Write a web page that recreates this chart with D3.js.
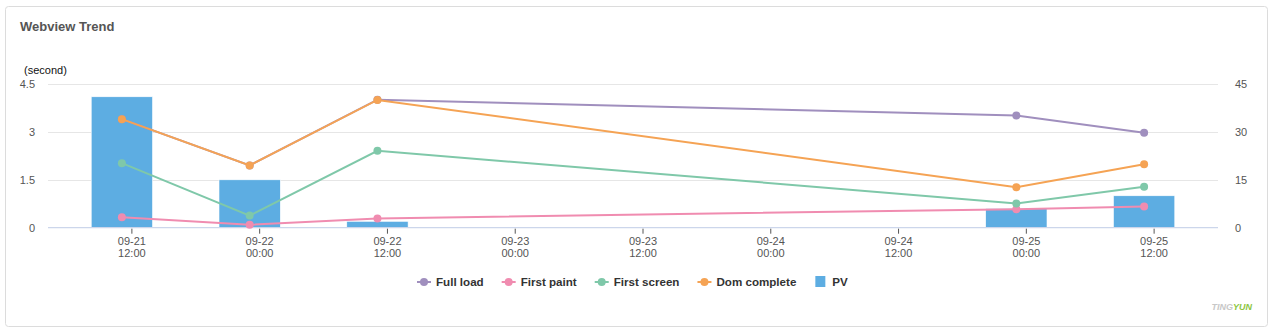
<!DOCTYPE html>
<html><head><meta charset="utf-8">
<script src="https://cdn.jsdelivr.net/npm/d3@7"></script>
<style>
html,body{margin:0;padding:0;background:#fff;}
svg{display:block;font-family:"Liberation Sans",Arial,sans-serif;}
</style></head>
<body>
<svg id="chart" width="1273" height="332"></svg>
<script>
const categories = ["09-21 12:00","09-22 00:00","09-22 12:00","09-23 00:00","09-23 12:00","09-24 00:00","09-24 12:00","09-25 00:00","09-25 12:00"];
const fullLoad    = [3.4, 1.95, 4.01, null, null, null, null, 3.51, 2.97];
const firstPaint  = [0.33, 0.09, 0.29, null, null, null, null, 0.58, 0.66];
const firstScreen = [2.02, 0.38, 2.41, null, null, null, null, 0.76, 1.28];
const domComplete = [3.4, 1.95, 4.0, null, null, null, null, 1.27, 1.99];
const pv          = [41, 15, 2, null, null, null, null, 6, 10];
const leftTicks  = [0, 1.5, 3, 4.5];
const rightTicks = [0, 15, 30, 45];

const series = [
  {name:"Full load", values: fullLoad, color:"#a08fbe"},
  {name:"First paint", values: firstPaint, color:"#f08cb0"},
  {name:"First screen", values: firstScreen, color:"#7fc8a9"},
  {name:"Dom complete", values: domComplete, color:"#f5a354"}
];
const barColor = "#5dade2";

const svg = d3.select("#chart");

// card
svg.append("rect").attr("x",5.5).attr("y",6.5).attr("width",1262).attr("height",320)
  .attr("rx",3).attr("fill","#fff").attr("stroke","#dcdcdc");

svg.append("text").attr("x",20).attr("y",31).attr("font-size",13).attr("font-weight","bold")
  .attr("fill","#555").text("Webview Trend");

const plotL = 48, plotR = 1218, plotT = 84, plotB = 227.7;
const x = d3.scaleBand().domain(categories).range([58,1208]).padding(0);
const yL = d3.scaleLinear().domain([0,4.5]).range([plotB, plotT]);
const yR = d3.scaleLinear().domain([0,45]).range([plotB, plotT]);
const cx = c => x(c) + x.bandwidth()/2;

// grid
svg.append("g").selectAll("line").data(leftTicks.filter(d=>d>0)).join("line")
  .attr("x1",plotL).attr("x2",plotR).attr("y1",d=>Math.round(yL(d))+0.5).attr("y2",d=>Math.round(yL(d))+0.5)
  .attr("stroke","#e6e6e6");

// left axis labels
const gL = svg.append("g").attr("transform",`translate(${plotL},0)`)
  .call(d3.axisLeft(yL).tickValues(leftTicks).tickFormat(d=>d).tickSize(0).tickPadding(13));
gL.select(".domain").remove();
gL.selectAll("text").attr("font-size",11).attr("fill","#555").attr("font-family","Liberation Sans, Arial, sans-serif");

const gR = svg.append("g").attr("transform",`translate(${plotR},0)`)
  .call(d3.axisRight(yR).tickValues(rightTicks).tickSize(0).tickPadding(17));
gR.select(".domain").remove();
gR.selectAll("text").attr("font-size",11).attr("fill","#555").attr("font-family","Liberation Sans, Arial, sans-serif");

svg.append("text").attr("x",24).attr("y",74).attr("font-size",11).attr("fill","#111").text("(second)");

// bars
const bw = x.bandwidth()*0.48;
svg.append("g").selectAll("rect").data(categories.map((c,i)=>({c,v:pv[i]})).filter(d=>d.v!=null)).join("rect")
  .attr("x",d=>cx(d.c)-bw/2).attr("width",bw)
  .attr("y",d=>yR(d.v)).attr("height",d=>plotB-yR(d.v))
  .attr("fill",barColor).attr("stroke","#fff").attr("stroke-width",0.6);

// x axis line
svg.append("line").attr("x1",plotL).attr("x2",plotR).attr("y1",plotB).attr("y2",plotB)
  .attr("stroke","#ccd6eb").attr("stroke-width",1.2);

// x axis ticks & labels (offset)
const gX = svg.append("g").attr("transform",`translate(10,${plotB})`)
  .call(d3.axisBottom(x).tickSize(6).tickPadding(4));
gX.select(".domain").remove();
gX.selectAll(".tick line").attr("stroke","#555").attr("y1",1);
gX.selectAll(".tick text").each(function(d){
  const t = d3.select(this); const parts = d.split(" ");
  t.text(null).attr("font-size",11).attr("fill","#555").attr("font-family","Liberation Sans, Arial, sans-serif");
  t.append("tspan").attr("x",0).attr("dy","0.71em").text(parts[0]);
  t.append("tspan").attr("x",0).attr("dy","1.05em").text(parts[1]);
});

// lines
const line = d3.line().x(d=>cx(d.c)).y(d=>yL(d.v));
series.forEach(s=>{
  const pts = categories.map((c,i)=>({c,v:s.values[i]})).filter(d=>d.v!=null);
  const g = svg.append("g");
  g.append("path").datum(pts).attr("d",line).attr("fill","none").attr("stroke",s.color).attr("stroke-width",2);
  g.selectAll("circle").data(pts).join("circle").attr("cx",d=>cx(d.c)).attr("cy",d=>yL(d.v)).attr("r",4).attr("fill",s.color);
});

// legend
const legendItems = series.map(s=>({name:s.name,color:s.color,type:"line"})).concat([{name:"PV",color:barColor,type:"bar"}]);
const lg = svg.append("g");
let lx = 0;
const ly = 282;
legendItems.forEach(it=>{
  const g = lg.append("g").attr("transform",`translate(${lx},0)`);
  if(it.type==="line"){
    g.append("line").attr("x1",0).attr("x2",14).attr("y1",ly).attr("y2",ly).attr("stroke",it.color).attr("stroke-width",2);
    g.append("circle").attr("cx",7).attr("cy",ly).attr("r",4).attr("fill",it.color);
  } else {
    g.append("rect").attr("x",1).attr("y",ly-6).attr("width",10).attr("height",11).attr("fill",it.color);
  }
  const t = g.append("text").attr("x",it.type==="line"?19:18).attr("y",ly+4).attr("font-size",11.6).attr("font-weight","bold")
    .attr("fill","#333").text(it.name);
  lx += (it.type==="line"?19:18) + t.node().getComputedTextLength() + 18;
});
lg.attr("transform",`translate(${417},0)`);

// watermark
const wm = svg.append("text").attr("x",1252).attr("y",310).attr("text-anchor","end")
  .attr("font-size",9).attr("font-weight","bold").attr("font-style","italic");
wm.append("tspan").attr("fill","#c8c8c8").text("TING");
wm.append("tspan").attr("fill","#8cc63f").text("YUN");
</script>
</body></html>
